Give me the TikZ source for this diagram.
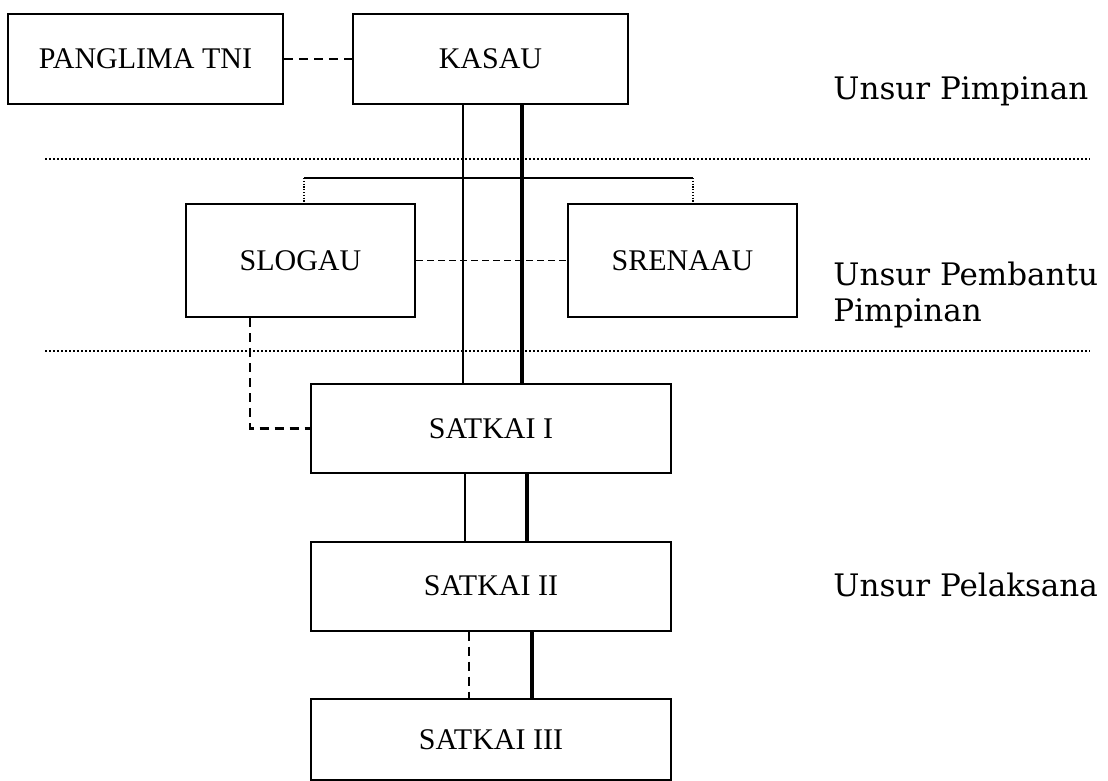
\documentclass[tikz,border=0pt]{standalone}
\usepackage{fontspec}
\setmainfont{Liberation Serif}
\newfontfamily\unsurfont{DejaVu Serif}
\usetikzlibrary{positioning}

\begin{document}
\begin{tikzpicture}[
    x=0.5pt, y=-0.5pt,
    box/.style={
        draw, line width=1pt, inner sep=0pt,
        font=\fontsize{15}{18}\selectfont
    },
    top/.style={
        box, minimum width=137.5pt, minimum height=45pt
    },
    staf/.style={
        box, minimum width=114.5pt, minimum height=56.5pt
    },
    sat/.style={
        box, minimum width=180pt, minimum height=44.5pt
    },
    ln/.style={
        line width=0.8pt
    },
    bold/.style={
        line width=2.2pt
    },
    dsh/.style={
        line width=1.1pt, dash pattern=on 4.5pt off 3pt
    },
    fine/.style={
        line width=0.7pt, dash pattern=on 3.5pt off 2pt
    },
    dots/.style={
        line width=0.6pt, dash pattern=on 0.6pt off 0.8pt
    },
    sep/.style={
        line width=1.1pt, dash pattern=on 1pt off 1pt
    },
    unsur/.style={
        inner sep=0pt, anchor=base west, align=left,
        font=\unsurfont\fontsize{15.5}{18}\selectfont
    }
]
    \useasboundingbox (0,0) rectangle (1108,781);

    \node [top] (panglima) at (145.5, 59) {PANGLIMA TNI};
    \node [top] (kasau) at (490.5, 59) {KASAU};
    \node [staf] (slogau) at (300.5, 260.5) {SLOGAU};
    \node [staf] (srenaau) at (682.5, 260.5) {SRENAAU};
    \node [sat] (satkai1) at (491, 428.5) {SATKAI I};
    \node [sat] (satkai2) at (491, 586) {SATKAI II};
    \node [sat, minimum height=40.5pt] (satkai3) at (491, 739.5) {SATKAI III};

    \node [unsur] (pimpinan) at (833, 100) {Unsur Pimpinan};
    \node [unsur, anchor=west] (pembantu) at (833, 295) {Unsur Pembantu\\Pimpinan};
    \node [unsur] (pelaksana) at (833, 596) {Unsur Pelaksana};

    \coordinate (s1l) at (45, 159);
    \coordinate (s1r) at (1090, 159);
    \coordinate (s2l) at (45, 351);
    \coordinate (s2r) at (1090, 351);
    \coordinate (brl) at (304, 178);
    \coordinate (brr) at (693, 178);

    % separators
    \draw (s1l) -- (s1r) [sep];
    \draw (s2l) -- (s2r) [sep];

    \draw (panglima) -- (kasau) [dsh];

    % kasau down to satkai I
    \draw ([xshift=-13.75pt]kasau.south) -- ([xshift=-13.75pt]kasau.south |- satkai1.north) [ln];
    \draw ([xshift=15.75pt]kasau.south) -- ([xshift=15.75pt]kasau.south |- satkai1.north) [bold];

    \draw (brl) -- (brr) [ln];
    \draw (brl) -- (brl |- slogau.north) [dots];
    \draw (brr) -- (brr |- srenaau.north) [dots];
    \draw (slogau) -- (srenaau) [fine];
    \draw ([xshift=-25.25pt]slogau.south) |- (satkai1.west) [dsh];

    \draw ([xshift=-13pt]satkai1.south) -- ([xshift=-13pt]satkai2.north) [ln];
    \draw ([xshift=18pt]satkai1.south) -- ([xshift=18pt]satkai2.north) [bold];
    \draw ([xshift=-11pt]satkai2.south) -- ([xshift=-11pt]satkai3.north) [dsh];
    \draw ([xshift=20.5pt]satkai2.south) -- ([xshift=20.5pt]satkai3.north) [bold];

\end{tikzpicture}
\end{document}
